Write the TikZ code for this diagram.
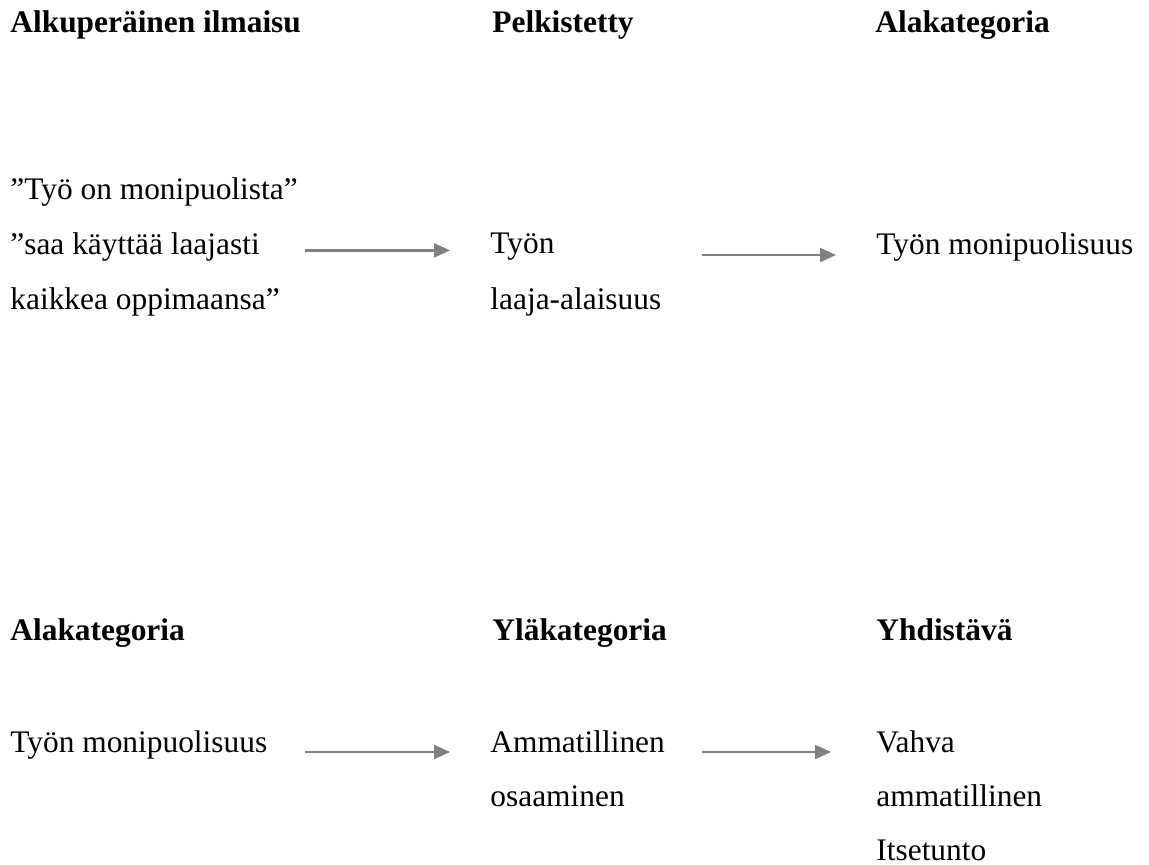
\documentclass[tikz,border=0pt]{standalone}
\usepackage{fontspec}
\setmainfont{Liberation Serif}
\usetikzlibrary{arrows.meta}

\begin{document}
\begin{tikzpicture}[x=0.5pt,y=-0.5pt,
  txt/.style={anchor=base west,inner sep=0pt,font=\fontsize{15.7pt}{18pt}\selectfont},
  head/.style={txt,font=\fontsize{15.7pt}{18pt}\selectfont\bfseries},
  flow/.style={draw=gray,line width=1.1pt,-{Triangle[length=8pt,width=7pt]}}]
\useasboundingbox (0,0) rectangle (1149,865);

\node[head] (h1) at (10,33) {Alkuperäinen ilmaisu};
\node[head] (h2) at (492,33) {Pelkistetty};
\node[head] (h3) at (875,33) {Alakategoria};

\node[txt] (q1) at (10,200) {”Työ on monipuolista”};
\node[txt] (q2) at (10,255) {”saa käyttää laajasti};
\node[txt] (q3) at (10,310) {kaikkea oppimaansa”};

\node[txt] (s1) at (490,254) {Työn};
\node[txt] (s2) at (490,310) {laaja-alaisuus};

\node[txt] (c1) at (876,255) {Työn monipuolisuus};

\draw[flow,shorten <=22.5pt,shorten >=20pt] (q2.mid east) -- (q2.mid east -| s1.west);
\draw[flow,shorten <=20pt,shorten >=20pt] (s2.east |- c1.base) -- (c1.base west);

\node[head] (h4) at (10,640) {Alakategoria};
\node[head] (h5) at (492,640) {Yläkategoria};
\node[head] (h6) at (876,640) {Yhdistävä};

\node[txt] (r1) at (10,752) {Työn monipuolisuus};

\node[txt] (u1) at (490,752) {Ammatillinen};
\node[txt] (u2) at (490,806) {osaaminen};

\node[txt] (v1) at (876,752) {Vahva};
\node[txt] (v2) at (876,806) {ammatillinen};
\node[txt] (v3) at (876,860) {Itsetunto};

\draw[flow,shorten <=18.5pt,shorten >=20pt] (r1.base east) -- (u1.base west);
\draw[flow,shorten <=18.5pt,shorten >=22.5pt] (u1.base east) -- (v1.base west);
\end{tikzpicture}
\end{document}
